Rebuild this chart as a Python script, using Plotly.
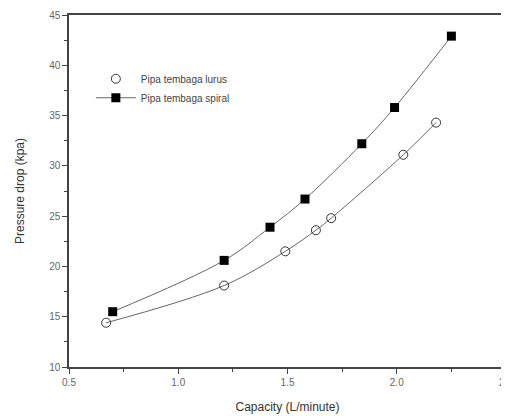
import plotly.graph_objects as go

x_lurus = [0.67, 1.21, 1.49, 1.63, 1.70, 2.03, 2.18]
y_lurus = [14.4, 18.1, 21.5, 23.6, 24.8, 31.1, 34.3]
x_spiral = [0.70, 1.21, 1.42, 1.58, 1.84, 1.99, 2.25]
y_spiral = [15.5, 20.6, 23.9, 26.7, 32.2, 35.8, 42.9]

name_lurus = "Pipa tembaga lurus"
name_spiral = "Pipa tembaga spiral"
x_title = "Capacity (L/minute)"
y_title = "Pressure drop (kpa)"

line_col = "#666666"
fig = go.Figure()
fig.add_trace(go.Scatter(x=x_lurus, y=y_lurus, mode="lines", line=dict(color=line_col, width=1, shape="spline"),
                         showlegend=False, hoverinfo="skip"))
fig.add_trace(go.Scatter(x=x_lurus, y=y_lurus, mode="markers", name=name_lurus,
                         marker=dict(symbol="circle-open", size=9, color="#333333", line=dict(width=1))))
fig.add_trace(go.Scatter(x=x_spiral, y=y_spiral, mode="lines+markers", name=name_spiral,
                         line=dict(color=line_col, width=1, shape="spline"),
                         marker=dict(symbol="square", size=9, color="#000000")))

axis_common = dict(showline=True, linecolor="#444444", linewidth=1.5, mirror=True, ticks="outside",
                   tickcolor="#444444", ticklen=5, showgrid=False, zeroline=False, automargin=False,
                   tickfont=dict(size=10, color="#666666"), ticklabeloverflow="allow",
                   minor=dict(ticks="outside", ticklen=3, tickcolor="#444444"))
fig.update_xaxes(range=[0.5, 2.5], dtick=0.5, tick0=0.5, tickformat=".1f",
                 minor_dtick=0.25,
                 title=dict(text=x_title, font=dict(size=12, color="#333333"), standoff=16), **axis_common)
fig.update_yaxes(range=[10, 45], dtick=5, tick0=10, minor_dtick=2.5,
                 title=dict(text=y_title, font=dict(size=12, color="#333333"), standoff=22), **axis_common)

fig.update_layout(width=501, height=408, margin=dict(l=61, r=3, t=7, b=49),
                  paper_bgcolor="white", plot_bgcolor="white",
                  font=dict(family="Liberation Sans, Arial, sans-serif"),
                  legend=dict(x=0.05, y=0.86, xanchor="left", yanchor="top", bgcolor="rgba(0,0,0,0)",
                              font=dict(size=10, color="#444444"), tracegroupgap=0, itemwidth=40))
fig.write_html("out.html")
